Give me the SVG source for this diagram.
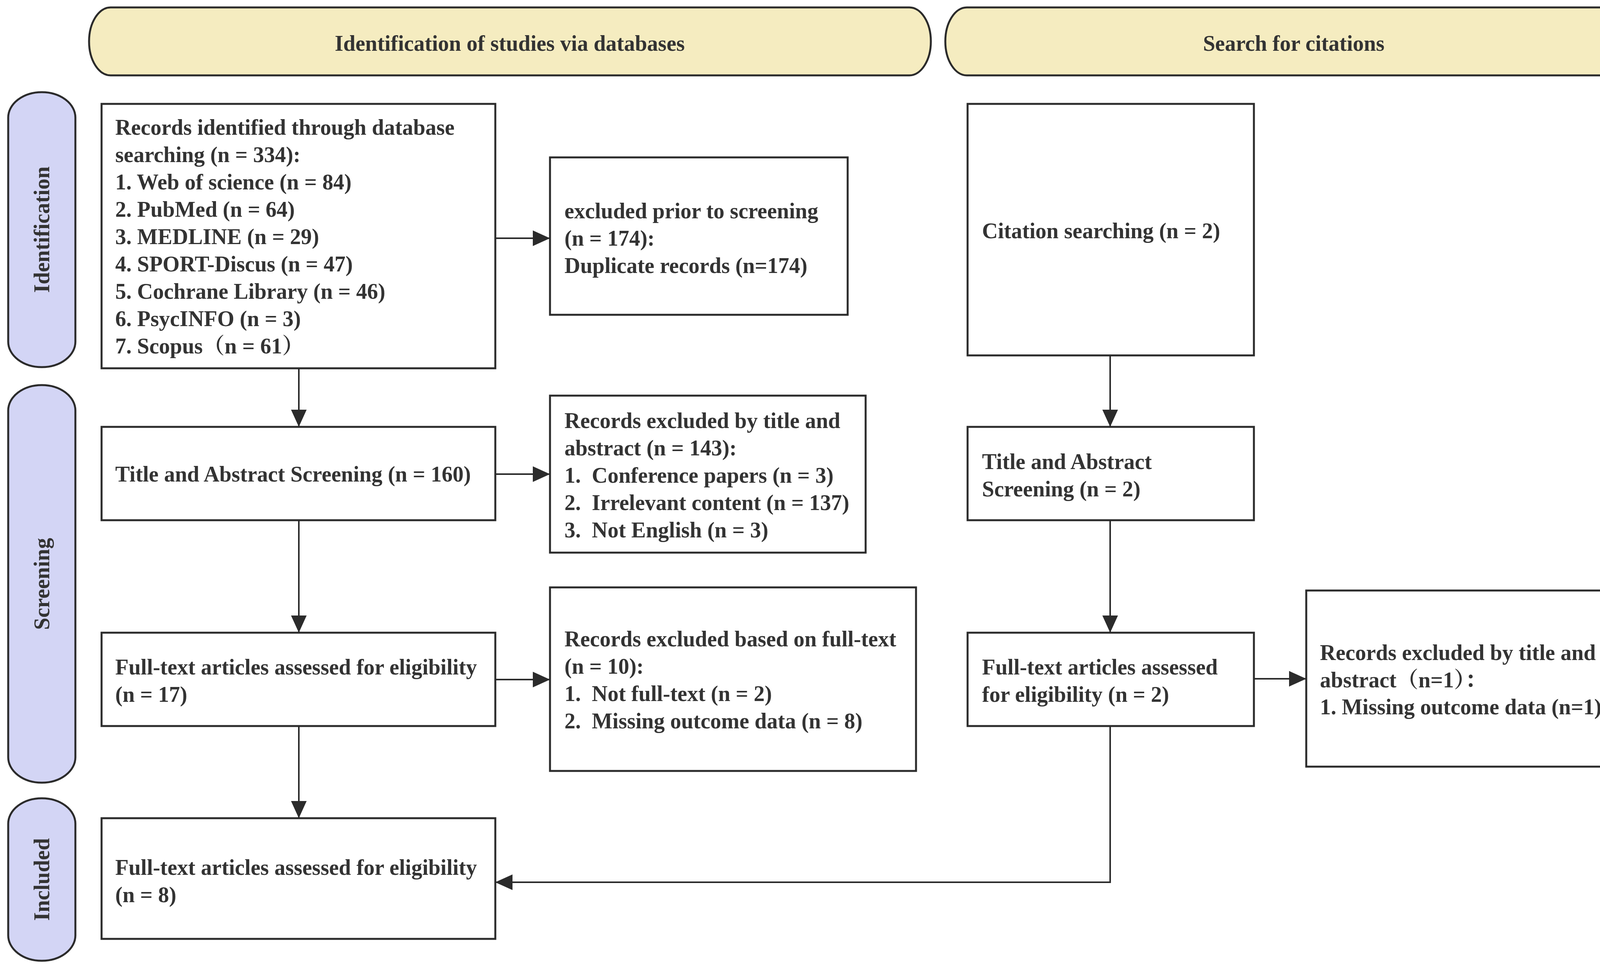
<svg xmlns="http://www.w3.org/2000/svg" width="4212" height="2476" viewBox="0 0 4212 2476">
<defs>
<style>
.t{font-family:"Liberation Serif","Noto Serif CJK SC","Noto Sans CJK SC",serif;font-weight:bold;font-size:56px;fill:#333333;white-space:pre}
.c{text-anchor:middle}
.box{fill:#ffffff;stroke:#2b2b2b;stroke-width:5}
.hdr{fill:#f5ecc0;stroke:#2b2b2b;stroke-width:5}
.tab{fill:#d3d5f5;stroke:#2b2b2b;stroke-width:5}
.ln{fill:none;stroke:#2b2b2b;stroke-width:4}
</style>
<marker id="ah" markerWidth="44" markerHeight="40" refX="44" refY="20" orient="auto" markerUnits="userSpaceOnUse">
<path d="M0,0 L44,20 L0,40 Z" fill="#2b2b2b"/>
</marker>
</defs>
<rect width="4212" height="2476" fill="#ffffff"/>

<g id="header-databases">
<rect class="hdr" x="228" y="19" width="2155" height="174" rx="55" ry="87"/>
<text class="t c" x="1305" y="130">Identification of studies via databases</text>
</g>
<g id="header-citations">
<rect class="hdr" x="2420" y="19" width="1784" height="174" rx="55" ry="87"/>
<text class="t c" x="3312" y="130">Search for citations</text>
</g>

<g id="tab-identification">
<rect class="tab" x="21" y="236" width="172" height="704" rx="86" ry="65"/>
<text class="t c" transform="translate(126,588) rotate(-90)">Identification</text>
</g>
<g id="tab-screening">
<rect class="tab" x="21" y="986" width="172" height="1018" rx="86" ry="65"/>
<text class="t c" transform="translate(126,1495) rotate(-90)">Screening</text>
</g>
<g id="tab-included">
<rect class="tab" x="21" y="2044" width="172" height="416" rx="86" ry="65"/>
<text class="t c" transform="translate(126,2252) rotate(-90)">Included</text>
</g>

<g id="connectors">
<line class="ln" x1="1268" y1="610" x2="1408" y2="610" marker-end="url(#ah)"/>
<line class="ln" x1="765" y1="943" x2="765" y2="1093" marker-end="url(#ah)"/>
<line class="ln" x1="1268" y1="1214" x2="1408" y2="1214" marker-end="url(#ah)"/>
<line class="ln" x1="765" y1="1332" x2="765" y2="1620" marker-end="url(#ah)"/>
<line class="ln" x1="1268" y1="1740" x2="1408" y2="1740" marker-end="url(#ah)"/>
<line class="ln" x1="765" y1="1859" x2="765" y2="2095" marker-end="url(#ah)"/>
<line class="ln" x1="2842" y1="910" x2="2842" y2="1093" marker-end="url(#ah)"/>
<line class="ln" x1="2842" y1="1332" x2="2842" y2="1620" marker-end="url(#ah)"/>
<line class="ln" x1="3210" y1="1738" x2="3344" y2="1738" marker-end="url(#ah)"/>
<polyline class="ln" points="2842,1859 2842,2259 1268,2259" marker-end="url(#ah)"/>
</g>

<g id="records-identified">
<rect class="box" x="260" y="266" width="1008" height="677"/>
<text class="t" x="295" y="345">Records identified through database</text>
<text class="t" x="295" y="415">searching (n = 334):</text>
<text class="t" x="295" y="485">1. Web of science (n = 84)</text>
<text class="t" x="295" y="555">2. PubMed (n = 64)</text>
<text class="t" x="295" y="625">3. MEDLINE (n = 29)</text>
<text class="t" x="295" y="695">4. SPORT-Discus (n = 47)</text>
<text class="t" x="295" y="765">5. Cochrane Library (n = 46)</text>
<text class="t" x="295" y="835">6. PsycINFO (n = 3)</text>
<text class="t" x="295" y="905">7. Scopus（n = 61）</text>
</g>

<g id="excluded-prior">
<rect class="box" x="1408" y="403" width="762" height="403"/>
<text class="t" x="1445" y="559">excluded prior to screening</text>
<text class="t" x="1445" y="629">(n = 174):</text>
<text class="t" x="1445" y="699">Duplicate records (n=174)</text>
</g>

<g id="title-abstract-screening">
<rect class="box" x="260" y="1093" width="1008" height="239"/>
<text class="t" x="295" y="1233">Title and Abstract Screening (n = 160)</text>
</g>

<g id="excluded-title-abstract">
<rect class="box" x="1408" y="1013" width="808" height="402"/>
<text class="t" x="1445" y="1096">Records excluded by title and</text>
<text class="t" x="1445" y="1166">abstract (n = 143):</text>
<text class="t" x="1445" y="1236">1.  Conference papers (n = 3)</text>
<text class="t" x="1445" y="1306">2.  Irrelevant content (n = 137)</text>
<text class="t" x="1445" y="1376">3.  Not English (n = 3)</text>
</g>

<g id="fulltext-assessed">
<rect class="box" x="260" y="1620" width="1008" height="239"/>
<text class="t" x="295" y="1727">Full-text articles assessed for eligibility</text>
<text class="t" x="295" y="1797">(n = 17)</text>
</g>

<g id="excluded-fulltext">
<rect class="box" x="1408" y="1504" width="937" height="470"/>
<text class="t" x="1445" y="1655">Records excluded based on full-text</text>
<text class="t" x="1445" y="1725">(n = 10):</text>
<text class="t" x="1445" y="1795">1.  Not full-text (n = 2)</text>
<text class="t" x="1445" y="1865">2.  Missing outcome data (n = 8)</text>
</g>

<g id="included">
<rect class="box" x="260" y="2095" width="1008" height="309"/>
<text class="t" x="295" y="2240">Full-text articles assessed for eligibility</text>
<text class="t" x="295" y="2310">(n = 8)</text>
</g>

<g id="citation-searching">
<rect class="box" x="2477" y="266" width="733" height="644"/>
<text class="t" x="2514" y="610">Citation searching (n = 2)</text>
</g>

<g id="citation-title-abstract">
<rect class="box" x="2477" y="1093" width="733" height="239"/>
<text class="t" x="2514" y="1201">Title and Abstract</text>
<text class="t" x="2514" y="1271">Screening (n = 2)</text>
</g>

<g id="citation-fulltext">
<rect class="box" x="2477" y="1620" width="733" height="239"/>
<text class="t" x="2514" y="1727">Full-text articles assessed</text>
<text class="t" x="2514" y="1797">for eligibility (n = 2)</text>
</g>

<g id="citation-excluded">
<rect class="box" x="3344" y="1512" width="857" height="451"/>
<text class="t" x="3379" y="1690">Records excluded by title and</text>
<text class="t" x="3379" y="1760">abstract（n=1）：</text>
<text class="t" x="3379" y="1829">1. Missing outcome data (n=1)</text>
</g>
</svg>
